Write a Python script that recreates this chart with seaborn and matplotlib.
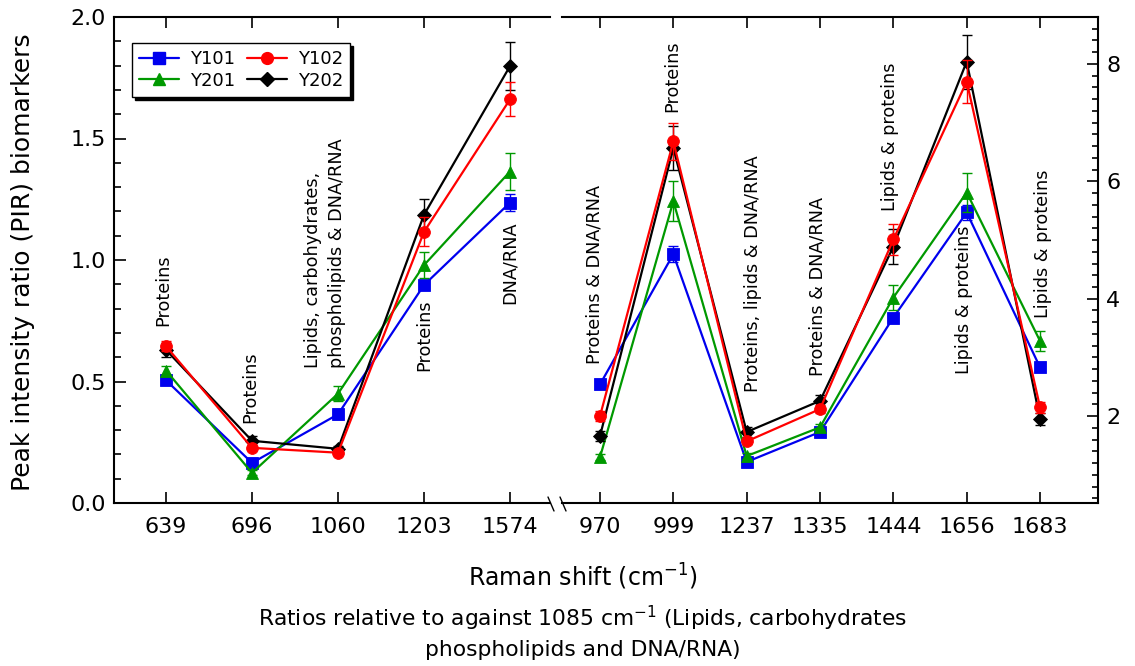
import matplotlib
matplotlib.use("Agg")
import matplotlib.pyplot as plt
import seaborn as sns
import pandas as pd
from matplotlib.ticker import MultipleLocator
from matplotlib.lines import Line2D

sns.set_style("ticks")
plt.rcParams["font.family"] = ["DejaVu Sans"]
plt.rcParams.update({
    "text.color": "black",
    "axes.labelcolor": "black",
    "axes.edgecolor": "black",
    "xtick.color": "black",
    "ytick.color": "black",
})

# Datos: Raman shift (cm-1) por panel
left_shift = ["639", "696", "1060", "1203", "1574"]
right_shift = ["970", "999", "1237", "1335", "1444", "1656", "1683"]

# panel izquierdo (eje y izquierdo)
y101_left = [0.505, 0.165, 0.365, 0.897, 1.236]
y102_left = [0.645, 0.227, 0.207, 1.116, 1.661]
y201_left = [0.545, 0.124, 0.450, 0.979, 1.364]
y202_left = [0.630, 0.256, 0.223, 1.186, 1.798]
y101_left_err = [0.01, 0.01, 0.02, 0.01, 0.035]
y102_left_err = [0.02, 0.01, 0.01, 0.06, 0.07]
y201_left_err = [0.02, 0.01, 0.03, 0.055, 0.075]
y202_left_err = [0.03, 0.02, 0.01, 0.065, 0.10]

# panel derecho (eje y derecho)
y101_right = [2.54, 4.76, 1.22, 1.73, 3.68, 5.47, 2.83]
y102_right = [2.00, 6.68, 1.57, 2.12, 5.01, 7.70, 2.15]
y201_right = [1.30, 5.66, 1.32, 1.81, 4.02, 5.81, 3.28]
y202_right = [1.66, 6.57, 1.73, 2.26, 4.89, 8.04, 1.95]
y101_right_err = [0.04, 0.14, 0.04, 0.04, 0.05, 0.12, 0.05]
y102_right_err = [0.09, 0.31, 0.05, 0.07, 0.26, 0.37, 0.09]
y201_right_err = [0.05, 0.34, 0.05, 0.05, 0.22, 0.33, 0.17]
y202_right_err = [0.08, 0.37, 0.08, 0.10, 0.29, 0.46, 0.10]

# etiquetas de asignación
left_notes = ["Proteins", "Proteins", "Lipids, carbohydrates,\nphospholipids & DNA/RNA",
              "Proteins", "DNA/RNA"]
right_notes = ["Proteins & DNA/RNA", "Proteins", "Proteins, lipids & DNA/RNA",
               "Proteins & DNA/RNA", "Lipids & proteins", "Lipids & proteins",
               "Lipids & proteins"]
# posición (base del texto) de cada etiqueta
left_note_y = [0.73, 0.33, 0.555, 0.545, 0.82]
left_note_dx = [-0.03, -0.02, -0.15, 0.0, 0.0]
right_note_y = [2.88, 7.19, 2.41, 2.68, 5.49, 2.71, 3.68]
right_note_dx = [-0.07, -0.01, 0.08, -0.04, -0.04, -0.04, 0.04]

estilos = {
    "Y101": dict(color="#0000EE", marker="s", ms=8.0),
    "Y102": dict(color="#FF0000", marker="o", ms=8.5),
    "Y201": dict(color="#009900", marker="^", ms=9.0),
    "Y202": dict(color="#000000", marker="D", ms=7.5),
}
orden_dibujo = ["Y101", "Y201", "Y202", "Y102"]


def tabla_larga(shifts, series):
    filas = []
    for nombre, (vals, errs) in series.items():
        for i, (s, v, e) in enumerate(zip(shifts, vals, errs)):
            filas.append({"pos": i, "shift": s, "serie": nombre, "valor": v, "err": e})
    return pd.DataFrame(filas)


df_left = tabla_larga(left_shift, {
    "Y101": (y101_left, y101_left_err),
    "Y102": (y102_left, y102_left_err),
    "Y201": (y201_left, y201_left_err),
    "Y202": (y202_left, y202_left_err),
})
df_right = tabla_larga(right_shift, {
    "Y101": (y101_right, y101_right_err),
    "Y102": (y102_right, y102_right_err),
    "Y201": (y201_right, y201_right_err),
    "Y202": (y202_right, y202_right_err),
})

W, H = 1135, 666
fig = plt.figure(figsize=(W / 100, H / 100), dpi=100)
ax_l = fig.add_axes([114 / W, 1 - 503 / H, 436 / W, 486 / H])
ax_r = fig.add_axes([562 / W, 1 - 503 / H, 536 / W, 486 / H])


def dibujar(ax, df):
    for k, nombre in enumerate(orden_dibujo):
        st = estilos[nombre]
        sub = df[df["serie"] == nombre]
        ax.errorbar(sub["pos"], sub["valor"], yerr=sub["err"], fmt="none",
                    ecolor=st["color"], elinewidth=1, capsize=3.6, capthick=1,
                    zorder=2 + k)
        sns.lineplot(data=sub, x="pos", y="valor", ax=ax, color=st["color"],
                     marker=st["marker"], markersize=st["ms"],
                     markeredgecolor=st["color"], markeredgewidth=0.6,
                     linewidth=1.6, legend=False, errorbar=None, zorder=2 + k)


dibujar(ax_l, df_left)
dibujar(ax_r, df_right)

# ejes
for ax, labels in [(ax_l, left_shift), (ax_r, right_shift)]:
    ax.set_xticks(range(len(labels)), labels)
    ax.tick_params(axis="x", which="both", direction="in", top=True, bottom=True,
                   length=8, width=1.2, labelsize=16, pad=10)
    ax.set_xlabel("")
    ax.set_ylabel("")
    for sp in ax.spines.values():
        sp.set_linewidth(1.5)

ax_l.set_xlim(-0.605, 4.465)
ax_l.set_ylim(0, 2.0)
ax_l.spines["right"].set_visible(False)
ax_l.yaxis.set_major_locator(MultipleLocator(0.5))
ax_l.yaxis.set_minor_locator(MultipleLocator(0.1))
ax_l.tick_params(axis="y", which="both", direction="in", left=True, right=False,
                 width=1.2, labelsize=16, pad=6)
ax_l.tick_params(axis="y", which="major", length=8.5)
ax_l.tick_params(axis="y", which="minor", length=5)

ax_r.set_xlim(-0.518, 6.79)
ax_r.set_ylim(0.52, 8.8)
ax_r.spines["left"].set_visible(False)
ax_r.yaxis.tick_right()
ax_r.yaxis.set_major_locator(MultipleLocator(2))
ax_r.yaxis.set_minor_locator(MultipleLocator(0.2))
ax_r.tick_params(axis="y", which="both", direction="in", left=False, right=True,
                 width=1.2, labelsize=16, pad=6)
ax_r.tick_params(axis="y", which="major", length=8)
ax_r.tick_params(axis="y", which="minor", length=4)

# etiquetas de bandas
for i, (txt, yb, dx) in enumerate(zip(left_notes, left_note_y, left_note_dx)):
    ax_l.text(i + dx, yb, txt, rotation=90, ha="center", va="bottom",
              fontsize=12.7, multialignment="left", linespacing=1.45, zorder=10)
for i, (txt, yb, dx) in enumerate(zip(right_notes, right_note_y, right_note_dx)):
    ax_r.text(i + dx, yb, txt, rotation=90, ha="center", va="bottom",
              fontsize=12.7, zorder=10)

# leyenda
orden_leyenda = ["Y101", "Y201", "Y102", "Y202"]
handles = [Line2D([], [], color=estilos[n]["color"], marker=estilos[n]["marker"],
                  markersize=estilos[n]["ms"], linewidth=1.6) for n in orden_leyenda]
leg = ax_l.legend(handles, orden_leyenda, ncol=2, loc="upper left",
                  bbox_to_anchor=(0.041, 0.947), borderaxespad=0, fontsize=13,
                  frameon=True, fancybox=False, framealpha=1, edgecolor="black",
                  shadow={"color": "black", "alpha": 1}, handlelength=2.2,
                  handletextpad=0.6, columnspacing=0.7, labelspacing=0.2,
                  borderpad=0.4)
leg.get_frame().set_linewidth(1)

# marcas de corte del eje x
for x0 in (548, 560):
    fig.add_artist(Line2D([x0 / W, (x0 + 6) / W], [1 - 497 / H, 1 - 511 / H],
                          transform=fig.transFigure, color="black", lw=1))

# títulos
fig.text(23 / W, 1 - 262 / H, "Peak intensity ratio (PIR) biomarkers",
         rotation=90, ha="center", va="center", fontsize=18)
fig.text(583 / W, 1 - 577 / H, "Raman shift (cm$^{-1}$)", ha="center", va="center",
         fontsize=17)
fig.text(583 / W, 1 - 632 / H,
         "Ratios relative to against 1085 cm$^{-1}$ (Lipids, carbohydrates\n"
         "phospholipids and DNA/RNA)", ha="center", va="center", fontsize=15.7,
         linespacing=1.4)

fig.savefig("out.png", dpi=100)
